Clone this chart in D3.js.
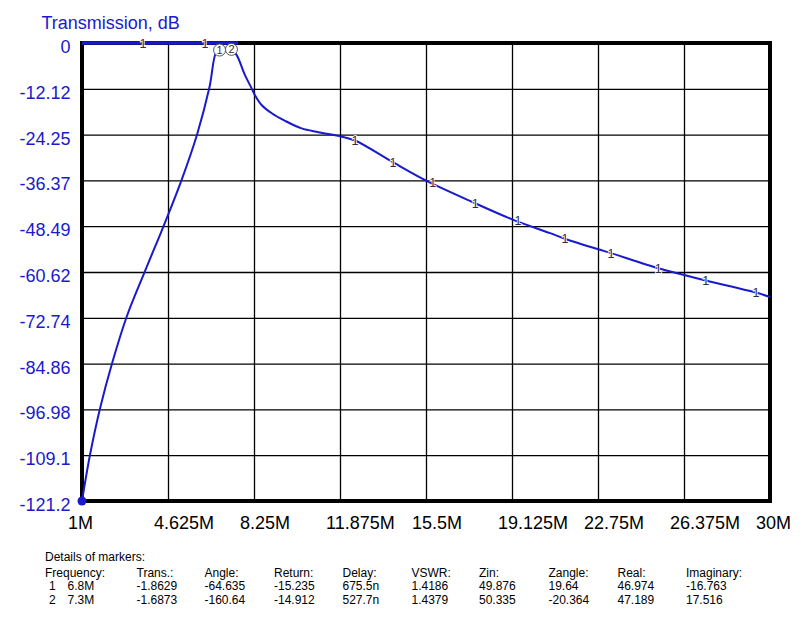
<!DOCTYPE html>
<html>
<head>
<meta charset="utf-8">
<script src="https://cdn.jsdelivr.net/npm/d3@7"></script>
<style>
  body { margin: 0; background: #fff; }
  text { font-family: "Liberation Sans", Arial, sans-serif; }
</style>
</head>
<body>
<svg id="chart" width="803" height="620"></svg>
<script>
// ---- data ----
const freqMHz = [1, 1.34, 1.76, 2.28, 2.88, 3.66, 4.46, 5.20, 5.86, 6.37, 6.65, 6.8, 7.05, 7.3, 7.52, 7.87, 8.15, 8.29, 8.57, 9.0, 9.56, 10.26, 10.96, 11.95, 12.51, 14.12, 15.53, 17.57, 19.18, 20.73, 21.36, 22.76, 23.30, 25.29, 26.39, 27.33, 29.44, 30];
const transDb = [-121.2, -108.9, -96.7, -84.5, -72.5, -60.3, -48.1, -36.2, -24.0, -11.8, -2.5, -1.86, -1.4, -1.69, -3.2, -8.5, -12.0, -13.8, -16.4, -18.6, -20.6, -22.6, -23.6, -24.8, -25.8, -31.6, -36.5, -42.4, -46.8, -50.3, -51.8, -54.6, -55.6, -59.6, -61.4, -62.9, -66.1, -67.2];

const topTraceFreq = [1, 7.58];
const topTraceDb = [0, 0];

const labelFreq = [12.51, 14.11, 15.78, 17.57, 19.38, 21.36, 23.30, 25.29, 27.29, 29.41, 3.57, 6.18];
const labelDb = [-25.8, -31.6, -37.0, -42.4, -47.1, -51.8, -55.6, -59.6, -62.9, -66.1, 0, 0];

const markerFreq = [6.8, 7.3];
const markerDb = [-1.8629, -1.6873];
const markerNames = ["1", "2"];

const xTickValues = [1, 4.625, 8.25, 11.875, 15.5, 19.125, 22.75, 26.375, 30];
const xTickLabels = ["1M", "4.625M", "8.25M", "11.875M", "15.5M", "19.125M", "22.75M", "26.375M", "30M"];
const yTickValues = [0, -12.12, -24.24, -36.36, -48.48, -60.6, -72.72, -84.84, -96.96, -109.08, -121.2];
const yTickLabels = ["0", "-12.12", "-24.25", "-36.37", "-48.49", "-60.62", "-72.74", "-84.86", "-96.98", "-109.1", "-121.2"];

const tableHeaders = ["Frequency:", "Trans.:", "Angle:", "Return:", "Delay:", "VSWR:", "Zin:", "Zangle:", "Real:", "Imaginary:"];
const marker1Row = ["6.8M", "-1.8629", "-64.635", "-15.235", "675.5n", "1.4186", "49.876", "19.64", "46.974", "-16.763"];
const marker2Row = ["7.3M", "-1.6873", "-160.64", "-14.912", "527.7n", "1.4379", "50.335", "-20.364", "47.189", "17.516"];

// ---- layout ----
const L = 82, R = 770, T = 43, B = 501;
const blue = "#1a1acd";
const svg = d3.select("#chart");

const x = d3.scaleLinear().domain([1, 30]).range([L, R]);
const y = d3.scaleLinear().domain([-121.2, 0]).range([B, T]);

// grid + x labels
const xAxis = d3.axisBottom(x).tickValues(xTickValues).tickSize(-(B - T)).tickFormat((d, i) => xTickLabels[i]);
const gx = svg.append("g").attr("transform", `translate(0,${B})`).call(xAxis);
gx.select(".domain").remove();
gx.selectAll(".tick line").attr("stroke", "#000").attr("stroke-width", 1.3);
gx.selectAll(".tick text")
  .attr("text-anchor", "start").attr("x", -14.5).attr("y", 28).attr("dy", null)
  .attr("fill", "#000").style("font-size", "18px");

const yAxis = d3.axisLeft(y).tickValues(yTickValues).tickSize(-(R - L)).tickFormat((d, i) => yTickLabels[i]);
const gy = svg.append("g").attr("transform", `translate(${L},0)`).call(yAxis);
gy.select(".domain").remove();
gy.selectAll(".tick line").attr("stroke", "#000").attr("stroke-width", 1.3);
gy.selectAll(".tick text")
  .attr("text-anchor", "end").attr("x", -11.5).attr("y", 9.5).attr("dy", null)
  .attr("fill", blue).style("font-size", "18px");

// frame
svg.append("rect").attr("x", L).attr("y", T).attr("width", R - L).attr("height", B - T)
  .attr("fill", "none").attr("stroke", "#000").attr("stroke-width", 4);

// title
svg.append("text").attr("x", 41.5).attr("y", 29).attr("fill", blue)
  .style("font-size", "18px").text("Transmission, dB");

// top trace
const topData = topTraceFreq.map((f, i) => [f, topTraceDb[i]]);
svg.append("path").datum(topData)
  .attr("d", d3.line().x(d => x(d[0])).y(d => y(d[1])))
  .attr("stroke", blue).attr("stroke-width", 3.5).attr("fill", "none");

// main curve
const data = freqMHz.map((f, i) => [f, transDb[i]]);
svg.append("path").datum(data)
  .attr("d", d3.line().x(d => x(d[0])).y(d => y(d[1])).curve(d3.curveCatmullRom.alpha(0.5)))
  .attr("stroke", blue).attr("stroke-width", 2).attr("fill", "none");

// start dot
svg.append("circle").attr("cx", x(freqMHz[0])).attr("cy", y(transDb[0])).attr("r", 4.5).attr("fill", blue);

// "1" labels along traces
svg.selectAll("text.lab").data(labelFreq).enter().append("text")
  .attr("class", "lab")
  .attr("x", d => x(d)).attr("y", (d, i) => y(labelDb[i]) + 4.5)
  .attr("text-anchor", "middle")
  .attr("fill", "#2c2c44")
  .attr("stroke", "#fff").attr("stroke-width", 1.5).attr("paint-order", "stroke")
  .style("font-size", "12.5px")
  .text("1");

// marker circles
const mk = svg.selectAll("g.mk").data(markerFreq).enter().append("g")
  .attr("transform", (d, i) => `translate(${x(d)},${y(markerDb[i])})`);
mk.append("circle").attr("r", 6).attr("fill", "#fff").attr("stroke", "#555").attr("stroke-width", 1);
mk.append("text").attr("text-anchor", "middle").attr("y", 4).attr("fill", "#333")
  .style("font-size", "11px").text((d, i) => markerNames[i]);

// table
const colX = [45, 136.5, 204.5, 274, 342.5, 411.5, 479, 548.5, 617.5, 686];
const tg = svg.append("g").style("font-size", "12px").attr("fill", "#000");
tg.append("text").attr("x", 45).attr("y", 560.5).text("Details of markers:");
tableHeaders.forEach((h, i) => tg.append("text").attr("x", colX[i]).attr("y", 576.5).text(h));
[marker1Row, marker2Row].forEach((row, r) => {
  const yy = 590 + r * 14.3;
  tg.append("text").attr("x", 49).attr("y", yy).text(markerNames[r]);
  row.forEach((v, i) => tg.append("text").attr("x", i === 0 ? 67.5 : colX[i]).attr("y", yy).text(v));
});
</script>
</body>
</html>
